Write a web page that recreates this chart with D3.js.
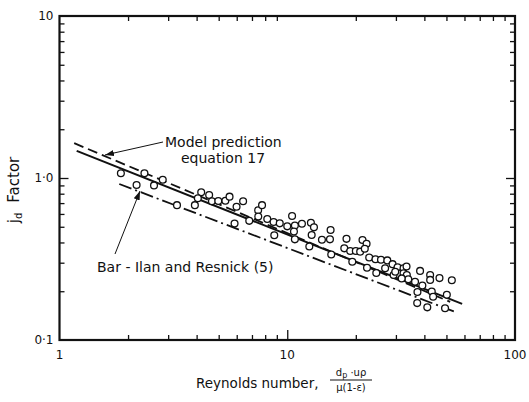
<!DOCTYPE html>
<html>
<head>
<meta charset="utf-8">
<script src="https://cdn.jsdelivr.net/npm/d3@7"></script>
<style>
  body { margin: 0; background: #fff; }
  text { font-family: "DejaVu Sans", "Liberation Sans", sans-serif; fill: #111; }
</style>
</head>
<body>
<div id="chart"></div>
<script>
// data (Re, jd)
var reynolds = [1.86, 2.36, 2.18, 2.60, 2.84, 3.28, 3.93, 4.19, 4.54, 4.05,
  4.67, 4.98, 5.35, 5.58, 5.99, 6.40, 5.87, 6.81, 7.45, 7.75,
  7.46, 8.17, 8.71, 9.27, 10.5, 10.0, 10.8, 11.6, 12.7, 13.1,
  10.7, 8.77, 10.8, 15.5, 14.2, 15.4, 18.2, 12.5, 12.8, 15.6,
  17.8, 18.9, 20.0, 20.9, 21.4, 22.3, 21.9, 22.9, 24.4, 25.8,
  27.5, 19.3, 22.4, 24.6, 26.9, 29.0, 29.3, 30.5, 29.8, 32.4,
  33.4, 32.4, 33.5, 34.0, 31.8, 36.4, 38.3, 42.4, 42.4, 46.6,
  52.8, 39.2, 37.3, 43.1, 43.7, 50.2, 37.2, 41.2, 49.3];
var jdFactor = [1.07, 1.07, 0.905, 0.90, 0.976, 0.68, 0.68, 0.817, 0.785, 0.75,
  0.718, 0.721, 0.723, 0.767, 0.665, 0.719, 0.523, 0.544, 0.632, 0.68,
  0.578, 0.558, 0.535, 0.525, 0.583, 0.503, 0.509, 0.522, 0.529, 0.496,
  0.467, 0.443, 0.418, 0.478, 0.416, 0.418, 0.421, 0.378, 0.445, 0.337,
  0.368, 0.354, 0.354, 0.351, 0.414, 0.393, 0.366, 0.323, 0.315, 0.313,
  0.31, 0.304, 0.279, 0.259, 0.277, 0.294, 0.252, 0.281, 0.264, 0.277,
  0.284, 0.258, 0.252, 0.237, 0.240, 0.229, 0.267, 0.252, 0.235, 0.241,
  0.234, 0.217, 0.198, 0.199, 0.185, 0.190, 0.169, 0.159, 0.157];

// straight correlation lines, end points [Re, jd]
var fitLine = [[1.19, 1.47], [58.6, 0.167]];
var modelLine = [[1.16, 1.64], [51.9, 0.172]];
var barIlanLine = [[1.83, 0.918], [54.6, 0.149]];

var xMajor = [1, 10, 100];
var xMajorLabels = ["1", "10", "100"];
var xMinor = [2, 3, 4, 5, 6, 7, 8, 9, 20, 30, 40, 50, 60, 70, 80, 90];
var yMajor = [0.1, 1, 10];
var yMajorLabels = ["0·1", "1·0", "10"];
var yMinor = [0.2, 0.3, 0.4, 0.5, 0.6, 0.7, 0.8, 0.9, 2, 3, 4, 5, 6, 7, 8, 9];

var W = 529, H = 402;
var plot = {left: 59.5, right: 515, top: 16, bottom: 340};

var svg = d3.select("#chart").append("svg")
  .attr("width", W)
  .attr("height", H);

var x = d3.scaleLog().domain([1, 100]).range([plot.left, plot.right]);
var y = d3.scaleLog().domain([0.1, 10]).range([plot.bottom, plot.top]);

// minor ticks, pointing inward on all four sides
svg.append("g").attr("transform", "translate(0," + plot.bottom + ")")
  .call(d3.axisBottom(x).tickValues(xMinor).tickSize(-5).tickFormat(""));
svg.append("g").attr("transform", "translate(0," + plot.top + ")")
  .call(d3.axisTop(x).tickValues(xMinor).tickSize(-5).tickFormat(""));
svg.append("g").attr("transform", "translate(" + plot.left + ",0)")
  .call(d3.axisLeft(y).tickValues(yMinor).tickSize(-5).tickFormat(""));
svg.append("g").attr("transform", "translate(" + plot.right + ",0)")
  .call(d3.axisRight(y).tickValues(yMinor).tickSize(-5).tickFormat(""));

// major ticks
svg.append("g").attr("transform", "translate(0," + plot.bottom + ")")
  .call(d3.axisBottom(x).tickValues([10]).tickSize(-10).tickFormat(""));
svg.append("g").attr("transform", "translate(" + plot.left + ",0)")
  .call(d3.axisLeft(y).tickValues([1]).tickSize(-9).tickFormat(""));
svg.append("g").attr("transform", "translate(" + plot.right + ",0)")
  .call(d3.axisRight(y).tickValues([1]).tickSize(-9).tickFormat(""));

svg.selectAll(".domain").remove();
svg.selectAll(".tick line").attr("stroke", "#111").attr("stroke-width", 1.3);

// frame
svg.append("rect")
  .attr("x", plot.left).attr("y", plot.top)
  .attr("width", plot.right - plot.left)
  .attr("height", plot.bottom - plot.top)
  .attr("fill", "none")
  .attr("stroke", "#111")
  .attr("stroke-width", 2.2);

// tick labels
svg.selectAll(".xlab").data(xMajor).enter().append("text")
  .attr("x", function(d) { return x(d); })
  .attr("y", plot.bottom + 19)
  .attr("text-anchor", "middle")
  .style("font-size", "12px")
  .text(function(d, i) { return xMajorLabels[i]; });

svg.selectAll(".ylab").data(yMajor).enter().append("text")
  .attr("x", plot.left - 6)
  .attr("y", function(d) { return y(d) + 4; })
  .attr("text-anchor", "end")
  .style("font-size", "12px")
  .text(function(d, i) { return yMajorLabels[i]; });

// axis titles
svg.append("text")
  .attr("x", 196).attr("y", 388)
  .style("font-size", "13.5px")
  .text("Reynolds number,");

var frac = svg.append("g").attr("transform", "translate(351,0)");
var num = frac.append("text").attr("x", 0).attr("y", 376)
  .attr("text-anchor", "middle").style("font-size", "10px");
num.append("tspan").text("d");
num.append("tspan").attr("dy", 2).style("font-size", "8px").text("p");
num.append("tspan").attr("dy", -2).text(" \u00b7u\u03c1");
frac.append("line").attr("x1", -21).attr("x2", 21).attr("y1", 380).attr("y2", 380)
  .attr("stroke", "#111").attr("stroke-width", 1);
frac.append("text").attr("x", 0).attr("y", 391)
  .attr("text-anchor", "middle").style("font-size", "10px")
  .text("\u03bc(1-\u03b5)");

var yt = svg.append("text")
  .attr("transform", "translate(19,190) rotate(-90)")
  .attr("text-anchor", "middle")
  .style("font-size", "15px");
yt.append("tspan").text("j");
yt.append("tspan").attr("dy", 3).style("font-size", "10px").text("d");
yt.append("tspan").attr("dy", -3).attr("dx", 10).text("Factor");

// correlation lines
var line = d3.line()
  .x(function(d) { return x(d[0]); })
  .y(function(d) { return y(d[1]); });

svg.append("path").datum(fitLine)
  .attr("d", line).attr("fill", "none")
  .attr("stroke", "#111").attr("stroke-width", 2);
svg.append("path").datum(modelLine)
  .attr("d", line).attr("fill", "none")
  .attr("stroke", "#111").attr("stroke-width", 1.8)
  .attr("stroke-dasharray", "10,5");
svg.append("path").datum(barIlanLine)
  .attr("d", line).attr("fill", "none")
  .attr("stroke", "#111").attr("stroke-width", 1.8)
  .attr("stroke-dasharray", "13,4,2,4");

// data points
svg.selectAll(".pt").data(reynolds).enter().append("circle")
  .attr("cx", function(d) { return x(d); })
  .attr("cy", function(d, i) { return y(jdFactor[i]); })
  .attr("r", 3.4)
  .attr("fill", "#fff")
  .attr("stroke", "#111")
  .attr("stroke-width", 1.3);

// annotations
svg.append("defs").append("marker")
  .attr("id", "arr")
  .attr("viewBox", "0 0 10 10")
  .attr("refX", 10).attr("refY", 5)
  .attr("markerWidth", 9).attr("markerHeight", 9)
  .attr("orient", "auto")
  .append("path")
  .attr("d", "M0,1.5 L10,5 L0,8.5 Z")
  .attr("fill", "#111");

svg.append("line")
  .attr("x1", 163).attr("y1", 142).attr("x2", 105).attr("y2", 155)
  .attr("stroke", "#111").attr("stroke-width", 1)
  .attr("marker-end", "url(#arr)");
svg.append("text").attr("x", 165).attr("y", 147)
  .style("font-size", "14px").text("Model prediction");
svg.append("text").attr("x", 181).attr("y", 163)
  .style("font-size", "14px").text("equation 17");

svg.append("line")
  .attr("x1", 115).attr("y1", 254).attr("x2", 140).attr("y2", 191)
  .attr("stroke", "#111").attr("stroke-width", 1)
  .attr("marker-end", "url(#arr)");
svg.append("text").attr("x", 97).attr("y", 272)
  .style("font-size", "14px").text("Bar - Ilan and Resnick (5)");
</script>
</body>
</html>
